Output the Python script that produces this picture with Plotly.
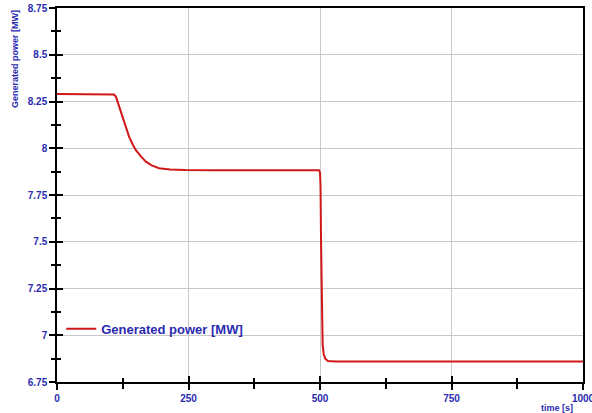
import plotly.graph_objects as go

# Data
time_s = [0, 105, 108, 112, 118, 125, 131, 137, 144, 150, 160, 169, 180, 194, 215,
          244, 300, 400, 498, 500, 501, 502, 503, 504, 505, 507, 510, 515, 530, 700, 1000]
power_mw = [8.29, 8.29, 8.287, 8.276, 8.225, 8.169, 8.115, 8.062, 8.02, 7.99, 7.955,
            7.928, 7.908, 7.893, 7.887, 7.884, 7.883, 7.883, 7.883, 7.87, 7.80, 7.50,
            7.20, 7.00, 6.95, 6.90, 6.875, 6.862, 6.86, 6.86, 6.86]

x_ticks = [0, 250, 500, 750, 1000]
x_tick_labels = ["0", "250", "500", "750", "1000"]
y_ticks = [6.75, 7.0, 7.25, 7.5, 7.75, 8.0, 8.25, 8.5, 8.75]
y_tick_labels = ["6.75", "7", "7.25", "7.5", "7.75", "8", "8.25", "8.5", "8.75"]

BLUE = "#2b2bb0"
FONT = "Liberation Sans, Arial, sans-serif"

fig = go.Figure()
fig.add_trace(go.Scatter(
    x=time_s, y=power_mw, mode="lines",
    line=dict(color="#d01818", width=2),
    name="<b>Generated power [MW]</b>",
))

axis_common = dict(showline=True, linecolor="black", linewidth=1.5, mirror=True,
                   showgrid=True, gridcolor="#c8c8c8", gridwidth=1, zeroline=False,
                   ticks="outside", ticklen=6, tickcolor="black", tickwidth=1.5,
                   tickfont=dict(family=FONT, size=10, color=BLUE), tickmode="array",
                   ticklabeloverflow="allow", automargin=False)

fig.update_layout(
    width=592, height=413,
    margin=dict(l=57, r=9, t=8, b=31),
    paper_bgcolor="white", plot_bgcolor="white",
    font=dict(family=FONT),
    xaxis=dict(range=[0, 1000], tickvals=x_ticks, ticktext=[f"<b>{t}</b>" for t in x_tick_labels],
               minor=dict(dtick=125, ticks="outside", ticklen=5, tickcolor="black", tickwidth=1.5,
                          showgrid=False),
               **axis_common),
    yaxis=dict(range=[6.75, 8.75], tickvals=y_ticks, ticktext=[f"<b>{t}</b>" for t in y_tick_labels],
               minor=dict(dtick=0.125, tick0=6.75, ticks="outside", ticklen=4, tickcolor="black",
                          tickwidth=1.5, showgrid=False),
               **axis_common),
    xaxis2=dict(overlaying="x", range=[0, 1000], showticklabels=False, showgrid=False,
                zeroline=False, showline=False, ticks="inside", ticklen=6, tickcolor="black",
                tickwidth=1.5, tickmode="array", tickvals=x_ticks, automargin=False,
                minor=dict(dtick=125, ticks="inside", ticklen=4, tickcolor="black", tickwidth=1.5)),
    yaxis2=dict(overlaying="y", range=[6.75, 8.75], showticklabels=False, showgrid=False,
                zeroline=False, showline=False, ticks="inside", ticklen=6, tickcolor="black",
                tickwidth=1.5, tickmode="array", tickvals=y_ticks, automargin=False,
                minor=dict(dtick=0.125, tick0=6.75, ticks="inside", ticklen=4, tickcolor="black",
                           tickwidth=1.5)),
    legend=dict(x=0.008, y=0.142, xanchor="left", yanchor="middle",
                bgcolor="rgba(0,0,0,0)",
                font=dict(family=FONT, size=13, color=BLUE, weight="bold"),
                itemwidth=30),
    showlegend=True,
)

fig.add_trace(go.Scatter(x=[], y=[], xaxis="x2", yaxis="y2", showlegend=False))

fig.add_annotation(text="<b>time [s]</b>", xref="paper", yref="paper", x=0.985, y=-0.05,
                   xanchor="right", yanchor="top", showarrow=False,
                   font=dict(family=FONT, size=9, color=BLUE))
fig.add_annotation(text="<b>Generated power [MW]</b>", xref="paper", yref="paper",
                   x=-0.08, y=1.0, xanchor="center", yanchor="top", textangle=-90,
                   showarrow=False, font=dict(family=FONT, size=9, color=BLUE))

fig.write_html("out.html")
